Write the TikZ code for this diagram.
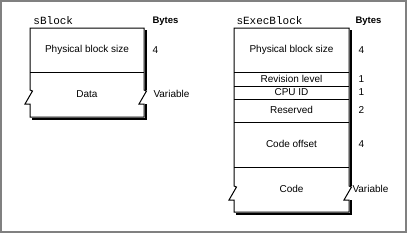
\documentclass[tikz,border=0pt]{standalone}
\usepackage{fontspec}
\setmainfont{Liberation Sans}
\setmonofont{Liberation Mono}
\usepackage{tikz}
% block with a break on both sides: left, right, top, break, bottom
\newcommand\memblock[5]{%
\filldraw[fill=white] (#1,#3) -- (#2,#3) -- (#2,#4) -- ++(2.5,1) -- ++(-7.5,13) -- (#2,#4+14) -- (#2,#5) -- (#1,#5) -- (#1,#4+14) -- ++(-5,0) -- ++(7.5,-13) -- (#1,#4) -- cycle;
\draw[line width=2pt] (#2+1.5,#3+2) -- (#2+1.5,#4) (#2+1.5,#4+14) -- (#2+1.5,#5+1.5) -- (#1+2,#5+1.5);}
\tikzset{field/.style={inner sep=0pt,font=\fontsize{10}{12}\selectfont},
  size/.style={field,anchor=west},
  hdr/.style={inner sep=0pt,anchor=west,font=\ttfamily\fontsize{11}{12}\selectfont},
  bytes/.style={inner sep=0pt,anchor=west,font=\bfseries\fontsize{9.5}{12}\selectfont}}
\begin{document}
\begin{tikzpicture}[x=1pt,y=-1pt,line width=1pt]
\useasboundingbox (0,0) rectangle (408,233);
\draw[line width=2pt,color=black!50] (1,1) rectangle (406,232);
% sBlock
\memblock{30}{144}{28}{90}{117}
\draw (30,72)--(144,72);
\node[hdr] (sb) at (33,21) {sBlock};\node[bytes] (sbb) at (152,21) {Bytes};
\node[field] (sbsize) at (87,50) {Physical block size};\node[size] (sbsizen) at (152,50) {4};
\node[field] (sbdata) at (87,94) {Data};\node[size] (sbdatan) at (153,94) {Variable};
% sExecBlock
\memblock{234}{349}{28}{186}{212}
\draw (234,72)--(349,72);\draw (234,86)--(349,86);\draw (234,99)--(349,99);
\draw (234,122)--(349,122);\draw (234,167)--(349,167);
\node[hdr] (se) at (236,21) {sExecBlock};\node[bytes] (seb) at (355,21) {Bytes};
\node[field] (sesize) at (291.5,50) {Physical block size};\node[size] (sesizen) at (358,50) {4};
\node[field] (serev) at (291.5,79) {Revision level};\node[size] (serevn) at (358,79) {1};
\node[field] (secpu) at (291.5,92.5) {CPU ID};\node[size] (secpun) at (358,92.5) {1};
\node[field] (seres) at (291.5,110) {Reserved};\node[size] (seresn) at (358,110) {2};
\node[field] (seoff) at (291.5,144) {Code offset};\node[size] (seoffn) at (358,144) {4};
\node[field] (secode) at (291.5,189) {Code};\node[size] (secoden) at (352,189) {Variable};
\end{tikzpicture}
\end{document}
